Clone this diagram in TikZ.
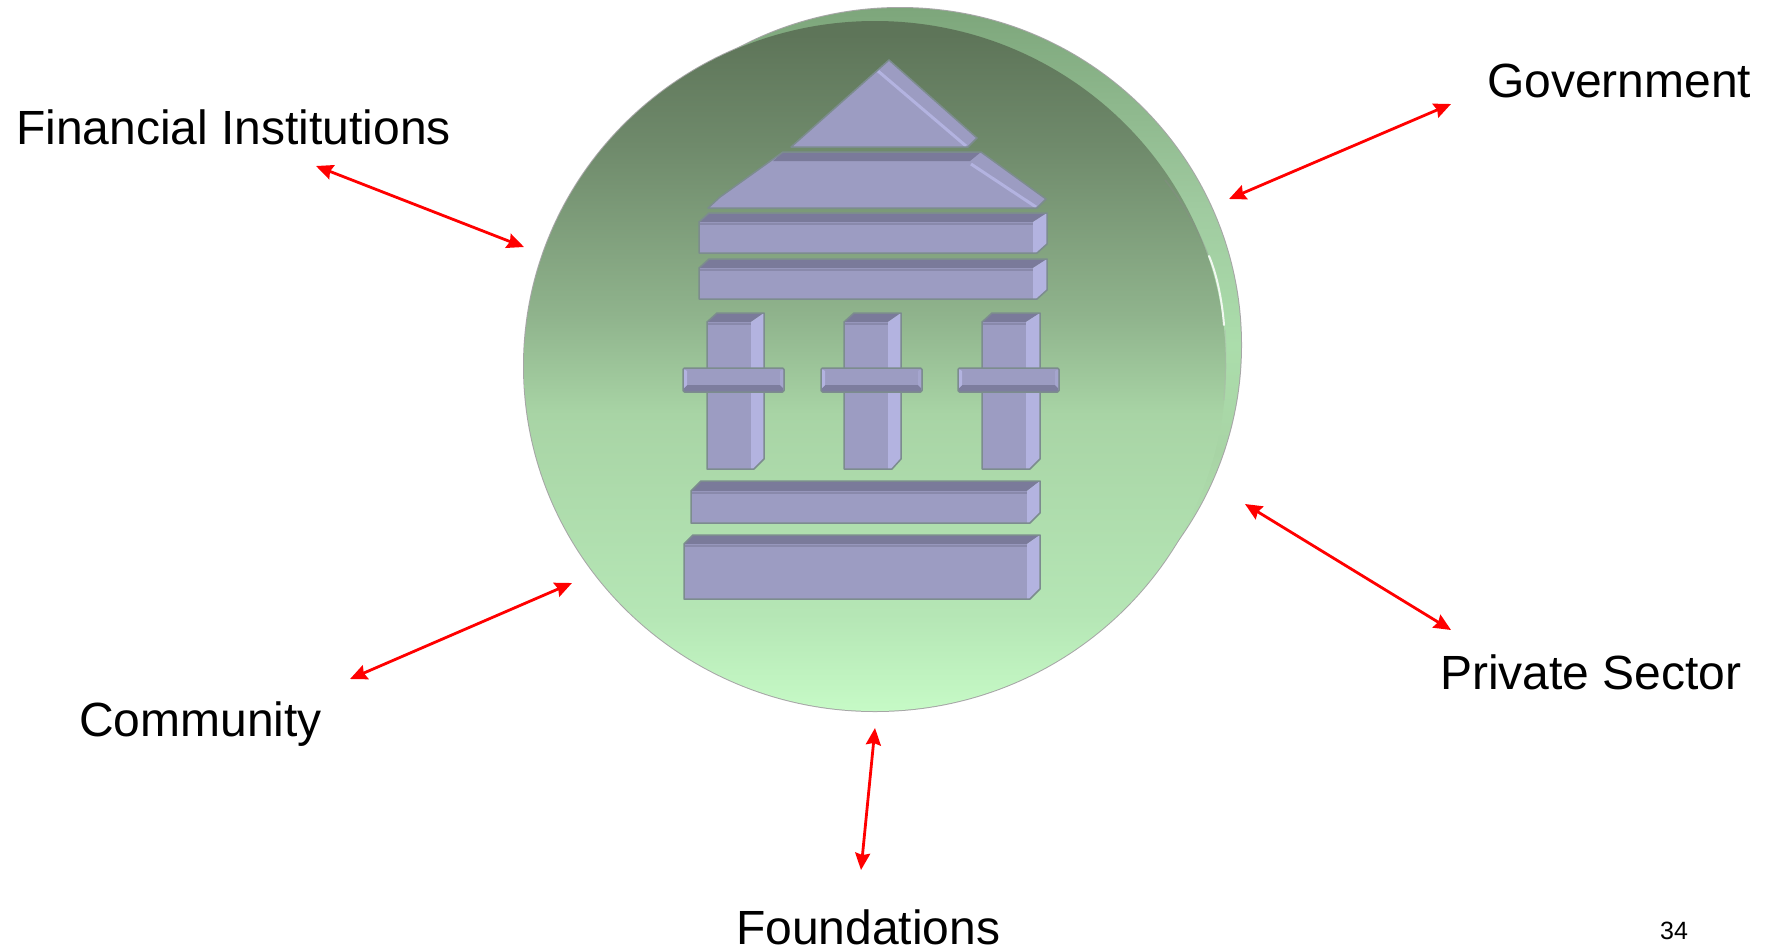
\documentclass[tikz,border=0pt]{standalone}
\usepackage{fontspec}
\setmainfont{Liberation Sans}
\usetikzlibrary{arrows.meta}
\definecolor{dA}{HTML}{5E7559}
\definecolor{dB}{HTML}{6F8A6B}
\definecolor{dC}{HTML}{8FB38C}
\definecolor{dD}{HTML}{A8D4A5}
\definecolor{dE}{HTML}{B5E6B5}
\definecolor{dF}{HTML}{C6FAC6}
\definecolor{rA}{HTML}{7DA67B}
\definecolor{rB}{HTML}{A0CBA0}
\definecolor{rC}{HTML}{ABDDAB}
\definecolor{faceC}{HTML}{9C9CC2}
\definecolor{topC}{HTML}{7A7A9A}
\definecolor{sideC}{HTML}{B3B3E0}
\definecolor{edgeC}{HTML}{7C8C8E}
\definecolor{arrowC}{HTML}{FF0000}
% y -> bp: front 75-(y-21)/690*50 ; back 75-(y-8)/674*50
\pgfdeclareverticalshading{discfront}{100bp}{
 color(0bp)=(dF); color(25bp)=(dF); color(32bp)=(dE); color(46.5bp)=(dD);
 color(53.8bp)=(dC); color(66bp)=(dB); color(74bp)=(dA); color(100bp)=(dA)}
\pgfdeclareverticalshading{discback}{100bp}{
 color(0bp)=(dF); color(25bp)=(dF); color(31bp)=(dE); color(42bp)=(dD);
 color(50bp)=(rC); color(60bp)=(rB); color(75bp)=(rA); color(100bp)=(rA)}
\tikzset{
 lbl/.style={inner sep=0pt,anchor=base west,font=\fontsize{48}{56}\selectfont,text=black},
 twoway/.style={draw=arrowC,line width=2.8pt,{Stealth[length=17pt,width=15pt,inset=2pt]}-{Stealth[length=17pt,width=15pt,inset=2pt]}},
 edge/.style={draw=edgeC,line width=1.5pt,line join=round},
 facefill/.style={fill=faceC},
 topfill/.style={fill=topC},
 sidefill/.style={fill=sideC},
 hilite/.style={draw=sideC,line width=3pt},
}
% L T R B backL backT backR sideBottom bottomRight
\newcommand{\prismshape}[9]{
 \fill[facefill] (#1,#2) rectangle (#9,#4);
 \fill[topfill] (#1,#2) -- (#5,#6) -- (#7,#6) -- (#3,#2) -- cycle;
 \fill[sidefill] (#3,#2) -- (#7,#6) -- (#7,#8) -- (#9,#4) -- (#3,#4) -- cycle;
 \draw[draw=faceC!88!black,line width=1.5pt] (#1,#2+2) -- (#3,#2+2);
 \draw[edge] (#1,#2) -- (#5,#6) -- (#7,#6) -- (#7,#8) -- (#9,#4) -- (#1,#4) -- cycle;
}
\newcommand{\crossbar}[4]{
 \fill[facefill,rounded corners=1.5pt] (#1,#2) rectangle (#3,#4);
 \fill[fill=topC!90!faceC] (#1+1,#4-4) -- (#1+4,#4-7) -- (#3-4,#4-7) -- (#3-1,#4-4) -- (#3-1,#4) -- (#1+1,#4) -- cycle;
 \fill[sidefill] (#1+1,#2+1) -- (#1+4,#2+3) -- (#1+4,#4-7) -- (#1+1,#4-4) -- cycle;
 \fill[fill=sideC!40!faceC] (#3-1,#2+1) -- (#3-4,#2+3) -- (#3-4,#4-7) -- (#3-1,#4-4) -- cycle;
 \draw[edge,rounded corners=1.5pt] (#1,#2) rectangle (#3,#4);
}
\begin{document}
\begin{tikzpicture}[x=1pt,y=-1pt]
\useasboundingbox (0,0) rectangle (1768,946);
% disc outlines underneath the fills, so only the union's outline shows
\draw[draw=black!35,line width=2pt] (900,345) ellipse [x radius=341,y radius=337];
\draw[draw=black!35,line width=2pt] (875,366) ellipse [x radius=351,y radius=345];
\shade[shading=discback] (900,345) ellipse [x radius=341,y radius=337];
\shade[shading=discfront] (875,366) ellipse [x radius=351,y radius=345];
% rim shadow and highlight
\draw[draw=black!45,opacity=.35,line width=1.5pt] (1165,180) .. controls (1185,205) and (1198,230) .. (1208,255);
\draw[draw=white,opacity=.85,line width=2pt,line cap=round] (1209,256) .. controls (1217,275) and (1222,300) .. (1224,325);
\draw[draw=black!30,opacity=.3,line width=1.5pt] (1225,330) .. controls (1226,350) and (1226,375) .. (1224,400);
% roof
\fill[facefill] (889,60) -- (977,138) -- (968,147) -- (791,147) -- cycle;
\draw[hilite] (878,71) -- (966,146);
\draw[edge] (889,60) -- (977,138) -- (968,147) -- (791,147) -- cycle;
\fill[facefill] (708,208) -- (720,197) -- (783,152) -- (981,152) -- (1046,199) -- (1037,208) -- cycle;
\fill[topfill] (783,152) -- (981,152) -- (970,161) -- (773,161) -- cycle;
\draw[hilite] (971,164) -- (1036,207);
\draw[edge] (708,208) -- (720,197) -- (783,152) -- (981,152) -- (1046,199) -- (1037,208) -- cycle;
% entablature
\prismshape{699}{222}{1033}{253}{709}{213}{1047}{244}{1037}
\prismshape{699}{268}{1033}{299}{709}{259}{1047}{290}{1037}
% columns
\prismshape{707}{322}{751}{469}{717}{313}{764}{459}{754}
\prismshape{844}{322}{888}{469}{854}{313}{901}{459}{892}
\prismshape{982}{322}{1026}{469}{992}{313}{1040}{459}{1030}
\crossbar{683}{368}{784}{392}
\crossbar{821}{368}{922}{392}
\crossbar{958}{368}{1059}{392}
% base
\prismshape{691}{491}{1027}{523}{701}{481}{1040}{513}{1030}
\prismshape{684}{544}{1027}{599}{693}{535}{1040}{589}{1030}
% labels
\node[lbl] (fin) at (16,144) {Financial Institutions};
\node[lbl] (gov) at (1487,97) {Government};
\node[lbl] (pri) at (1440,689) {Private Sector};
\node[lbl] (com) at (79,736) {Community};
\node[lbl] (fou) at (736,944) {Foundations};
\node[inner sep=0pt,anchor=base west,font=\fontsize{25}{30}\selectfont] (pg) at (1660,939) {34};
% connectors
\coordinate (finA) at (316,166); \coordinate (finB) at (524,247);
\coordinate (govA) at (1451,104); \coordinate (govB) at (1229,199);
\coordinate (priA) at (1245,504); \coordinate (priB) at (1451,630);
\coordinate (comA) at (572,583); \coordinate (comB) at (350,679);
\coordinate (fouA) at (875,728); \coordinate (fouB) at (861,870);
\draw[twoway] (finA) -- (finB);
\draw[twoway] (govA) -- (govB);
\draw[twoway] (priA) -- (priB);
\draw[twoway] (comA) -- (comB);
\draw[twoway] (fouA) -- (fouB);
\end{tikzpicture}
\end{document}
